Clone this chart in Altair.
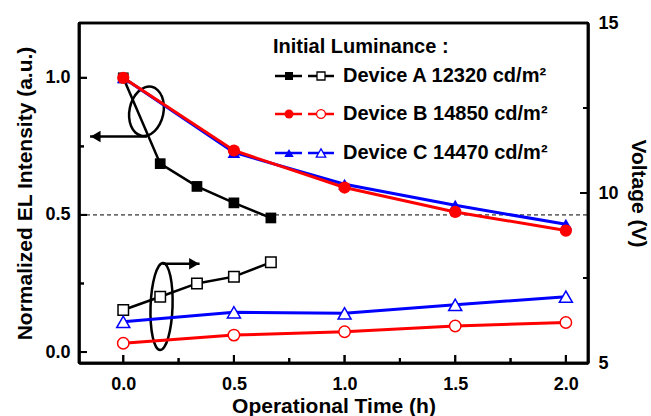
import math
import altair as alt
import pandas as pd

# Operational time (h)
time_a = [0.0, 0.167, 0.333, 0.5, 0.667]
time_bc = [0.0, 0.5, 1.0, 1.5, 2.0]

# Normalized EL intensity (left axis)
el_a = [1.0, 0.687, 0.604, 0.544, 0.489]
el_b = [1.0, 0.735, 0.600, 0.511, 0.443]
el_c = [1.0, 0.728, 0.612, 0.535, 0.466]

# Driving voltage in V (right axis)
volt_a = [6.56, 6.95, 7.34, 7.54, 7.96]
volt_b = [5.58, 5.82, 5.92, 6.09, 6.19]
volt_c = [6.21, 6.49, 6.46, 6.71, 6.95]

devices = ["Device A", "Device B", "Device C"]
luminance = [12320, 14850, 14470]
colors = ["#000000", "#ff0000", "#0000ff"]
shapes = ["square", "circle", "triangle-up"]

# Axis ticks
x_major = [0.0, 0.5, 1.0, 1.5, 2.0]
x_minor = [0.25, 0.75, 1.25, 1.75]
el_major = [0.0, 0.5, 1.0]
el_minor = [0.25, 0.75]
v_major = [5, 10, 15]
v_minor = [7.5, 12.5]

# Annotation ellipses (centre on the EL scale) and arrows
ellipse_time = [0.105, 0.173]
ellipse_el = [0.878, 0.166]
arrow_from = [0.107, 0.177]
arrow_to = [-0.15, 0.345]
arrow_el = [0.786, 0.322]

W, H = 509, 340
FONT = "Liberation Sans"
X_DOM = [-0.2, 2.1]
EL_DOM = [-0.04, 1.2]
V_DOM = [5, 15]

x_scale = alt.Scale(domain=X_DOM, nice=False, zero=False)
el_scale = alt.Scale(domain=EL_DOM, nice=False, zero=False)
v_scale = alt.Scale(domain=V_DOM, nice=False, zero=False)

axis_style = dict(
    ticks=False, grid=False,
    domain=True, domainColor="black", domainWidth=2.5,
    labelFont=FONT, titleFont=FONT, labelFontSize=18, titleFontSize=21,
    labelFontWeight="bold", titleFontWeight="bold",
    labelColor="black", titleColor="black",
)

x_axis = alt.Axis(values=x_major, format=".1f", title="Operational Time (h)",
                  labelPadding=12, titlePadding=2, **axis_style)
el_axis = alt.Axis(values=el_major, format=".1f", orient="left",
                   title="Normalized EL Intensity (a.u.)",
                   labelPadding=9, titlePadding=9, **axis_style)
v_axis = alt.Axis(values=v_major, format="d", orient="right",
                  title="Voltage (V)", labelPadding=10, titlePadding=9,
                  **axis_style)


def X(field="time"):
    return alt.X(f"{field}:Q", scale=x_scale, axis=x_axis)


def YEL(show=False):
    return alt.Y("el:Q", scale=el_scale, axis=el_axis if show else None)


def YV(show=False):
    return alt.Y("v:Q", scale=v_scale, axis=v_axis if show else None)


def ellipse_outline(cx, cy, rx_px, ry_px, tilt_deg, n=16):
    """Outline of a tilted ellipse annotation, in data units of the x / EL scales."""
    px_x = W / (X_DOM[1] - X_DOM[0])
    px_y = H / (EL_DOM[1] - EL_DOM[0])
    t = math.radians(tilt_deg)
    rows = []
    for k in range(n):
        a = 2 * math.pi * k / n
        dx, dy = rx_px * math.cos(a), ry_px * math.sin(a)
        sx = dx * math.cos(t) - dy * math.sin(t)
        sy = dx * math.sin(t) + dy * math.cos(t)
        rows.append({"i": k, "time": cx + sx / px_x, "el": cy - sy / px_y})
    return pd.DataFrame(rows)


one = pd.DataFrame({"k": [0]})


# plot frame and inward tick marks
def frame_and_ticks():
    out = []
    for enc in [dict(x=alt.value(0), x2=alt.value(W), y=alt.value(0)),
                dict(x=alt.value(0), x2=alt.value(W), y=alt.value(H)),
                dict(y=alt.value(0), y2=alt.value(H), x=alt.value(0)),
                dict(y=alt.value(0), y2=alt.value(H), x=alt.value(W))]:
        out.append(alt.Chart(one).mark_rule(color="black", strokeWidth=2.5).encode(**enc))
    for vals, length in [(el_major, 8), (el_minor, 5)]:
        out.append(
            alt.Chart(pd.DataFrame({"el": vals})).mark_rule(color="black", strokeWidth=2)
            .encode(y=YEL(), x=alt.value(0), x2=alt.value(length))
        )
    for vals, length in [(v_major, 8), (v_minor, 5)]:
        out.append(
            alt.Chart(pd.DataFrame({"v": vals})).mark_rule(color="black", strokeWidth=2)
            .encode(y=YV(), x=alt.value(W), x2=alt.value(W - length))
        )
    for vals, length in [(x_major, 8), (x_minor, 5)]:
        out.append(
            alt.Chart(pd.DataFrame({"time": vals})).mark_rule(color="black", strokeWidth=2)
            .encode(x=X(), y=alt.value(H), y2=alt.value(H - length))
        )
    return out


el_times = [time_a, time_bc, time_bc]
el_vals = [el_a, el_b, el_c]
v_vals = [volt_a, volt_b, volt_c]
line_w = [2.5, 3, 3]
fill_size = [115, 150, 160]
open_size = [110, 130, 170]
draw_order = [0, 2, 1]

layers = frame_and_ticks()

# half-intensity reference line (carries the left axis)
layers.append(
    alt.Chart(pd.DataFrame({"el": [0.5]})).mark_rule(
        color="black", strokeWidth=1, strokeDash=[4, 3]
    ).encode(y=YEL(show=True), x=alt.value(0), x2=alt.value(W))
)

# ellipses around each group of curves
for cx, cy, rx, ry, tilt in [(ellipse_time[0], ellipse_el[0], 17, 25, 12),
                             (ellipse_time[1], ellipse_el[1], 11, 43.5, 2)]:
    layers.append(
        alt.Chart(ellipse_outline(cx, cy, rx, ry, tilt))
        .mark_line(color="black", strokeWidth=2.5, interpolate="cardinal-closed")
        .encode(x=X(), y=YEL(), order="i:Q")
    )

# arrows pointing to the matching axis
arrow_df = pd.DataFrame({"time": arrow_from, "time2": arrow_to, "el": arrow_el})
layers.append(
    alt.Chart(arrow_df).mark_rule(color="black", strokeWidth=2.5)
    .encode(x=X(), x2="time2:Q", y=YEL())
)
for i, (head, shift) in enumerate([("triangle-left", 0.025), ("triangle-right", -0.025)]):
    layers.append(
        alt.Chart(pd.DataFrame({"time": [arrow_to[i] + shift], "el": [arrow_el[i]]}))
        .mark_point(shape=head, size=130, filled=True, color="black", opacity=1)
        .encode(x=X(), y=YEL())
    )

# EL decay curves (filled symbols)
for i in draw_order:
    df = pd.DataFrame({"time": el_times[i], "el": el_vals[i]})
    layers.append(
        alt.Chart(df).mark_line(color=colors[i], strokeWidth=line_w[i])
        .encode(x=X(), y=YEL())
    )
    layers.append(
        alt.Chart(df).mark_point(shape=shapes[i], size=fill_size[i], filled=True,
                                 color=colors[i], opacity=1)
        .encode(x=X(), y=YEL())
    )

# voltage curves (open symbols); the first one carries the right axis
for n, i in enumerate(draw_order):
    df = pd.DataFrame({"time": el_times[i], "v": v_vals[i]})
    layers.append(
        alt.Chart(df).mark_line(color=colors[i], strokeWidth=line_w[i])
        .encode(x=X(), y=YV(show=(n == 0)))
    )
    layers.append(
        alt.Chart(df).mark_point(shape=shapes[i], size=open_size[i], filled=True,
                                 fill="white", stroke=colors[i], strokeWidth=1.5,
                                 opacity=1)
        .encode(x=X(), y=YV())
    )

# legend
layers.append(
    alt.Chart(one).mark_text(text="Initial Luminance :", align="left",
                             baseline="middle", fontSize=20, fontWeight="bold",
                             font=FONT, color="black")
    .encode(x=alt.value(194), y=alt.value(24))
)
row_y = [53, 91, 130]
leg_fill = [64, 80, 90]
for i in range(3):
    y = row_y[i]
    for (xa, xb) in [(196, 223), (229, 255)]:
        layers.append(
            alt.Chart(one).mark_rule(color=colors[i], strokeWidth=2.5)
            .encode(x=alt.value(xa), x2=alt.value(xb), y=alt.value(y))
        )
    layers.append(
        alt.Chart(one).mark_point(shape=shapes[i], size=leg_fill[i], filled=True,
                                  color=colors[i], opacity=1)
        .encode(x=alt.value(210), y=alt.value(y))
    )
    layers.append(
        alt.Chart(one).mark_point(shape=shapes[i], size=leg_fill[i], filled=True,
                                  fill="white", stroke=colors[i], strokeWidth=1.3,
                                  opacity=1)
        .encode(x=alt.value(242), y=alt.value(y))
    )
    layers.append(
        alt.Chart(one).mark_text(text=f"{devices[i]} {luminance[i]} cd/m²",
                                 align="left", baseline="middle", fontSize=20,
                                 fontWeight="bold", font=FONT, color="black")
        .encode(x=alt.value(264), y=alt.value(y))
    )

# frame and ticks once more on top of everything
layers += frame_and_ticks()

chart = alt.layer(*layers).resolve_scale(y="independent").properties(
    width=W, height=H,
    background="white",
    autosize=alt.AutoSizeParams(type="none"),
    padding={"left": 79, "top": 23, "right": 63, "bottom": 53},
).configure_view(stroke="black", strokeWidth=2)

chart.save("out.html", embed_options={"renderer": "svg", "actions": False})
